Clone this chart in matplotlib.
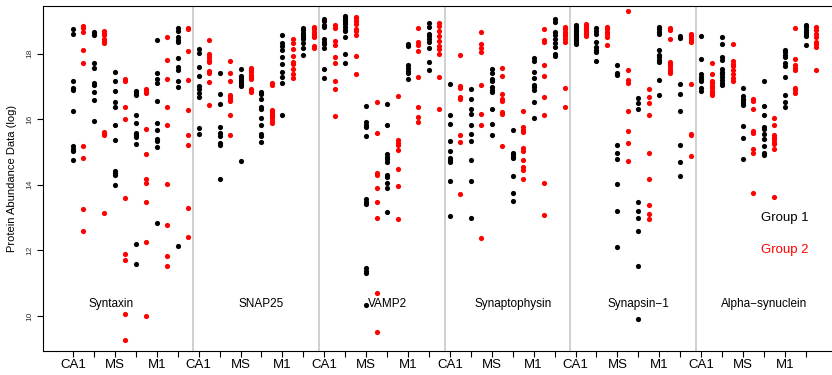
import matplotlib
matplotlib.use("Agg")
import matplotlib.pyplot as plt

plt.rcParams['font.family'] = ['Liberation Sans', 'DejaVu Sans']

proteins = ["Syntaxin", "SNAP25", "VAMP2", "Synaptophysin", "Synapsin\u22121", "Alpha\u2212synuclein"]
region_labels = ["CA1", "", "MS", "", "M1", ""]
label_x = [2.8, 10, 16, 22, 28, 34]

# each protein: 6 columns (CA1, CA1, MS, MS, M1, M1), group 1 (black) and group 2 (red)
syntaxin_g1 = [
    [18.74, 18.61, 17.17, 16.96, 16.90, 16.25, 15.18, 15.10, 15.04, 14.76],
    [18.66, 18.61, 18.56, 17.70, 17.55, 17.09, 17.03, 16.84, 16.59, 15.93],
    [17.44, 17.17, 16.85, 16.52, 16.38, 15.83, 15.37, 14.43, 14.36, 14.29, 14.0],
    [16.87, 16.80, 16.74, 16.13, 15.89, 15.58, 15.51, 15.45, 15.23, 12.19, 11.58],
    [18.41, 17.42, 17.23, 17.09, 16.55, 15.88, 15.66, 15.40, 15.34, 15.14, 12.84],
    [18.77, 18.69, 18.49, 18.42, 18.35, 17.85, 17.59, 17.50, 17.16, 16.98, 12.13],
]
syntaxin_g2 = [
    [18.85, 18.78, 18.65, 18.10, 17.71, 15.18, 14.81, 13.26, 12.59],
    [18.69, 18.63, 18.58, 18.45, 18.39, 18.32, 15.61, 15.56, 15.51, 13.14],
    [17.22, 17.16, 16.36, 16.0, 13.60, 11.90, 11.70, 10.07, 9.28],
    [16.91, 16.85, 16.79, 15.69, 14.95, 14.19, 14.06, 13.48, 12.25, 10.0],
    [18.50, 17.79, 17.22, 16.38, 15.81, 14.02, 12.77, 11.83, 11.53],
    [18.79, 18.75, 18.07, 17.20, 16.28, 15.51, 15.20, 13.29, 12.40],
]
snap25_g1 = [
    [18.15, 18.03, 17.59, 17.31, 17.0, 16.92, 16.80, 16.67, 15.72, 15.54],
    [17.41, 16.78, 16.45, 15.75, 15.57, 15.50, 15.28, 15.22, 14.19],
    [17.52, 17.32, 17.26, 17.19, 17.13, 17.06, 17.0, 14.73],
    [16.83, 16.76, 16.62, 16.36, 16.30, 16.04, 15.83, 15.56, 15.50, 15.31],
    [18.57, 18.33, 18.24, 18.10, 17.89, 17.68, 17.44, 17.29, 17.10, 16.12],
    [18.79, 18.71, 18.64, 18.58, 18.51, 18.45, 18.32, 18.18, 17.95],
]
snap25_g2 = [
    [18.42, 18.0, 17.88, 17.80, 17.73, 17.47, 17.41, 17.13, 16.43],
    [17.77, 17.40, 17.16, 16.74, 16.68, 16.61, 16.55, 16.13, 15.51],
    [17.57, 17.50, 17.43, 17.35, 17.29, 17.22, 16.92, 16.88, 16.82],
    [17.11, 17.04, 16.28, 16.22, 16.16, 16.09, 16.02, 15.95, 15.88],
    [18.45, 18.32, 18.13, 17.94, 17.75, 17.69, 17.52, 17.39, 17.24],
    [18.81, 18.74, 18.67, 18.61, 18.55, 18.49, 18.23, 18.18],
]
vamp2_g1 = [
    [19.06, 18.99, 18.88, 18.82, 18.45, 18.36, 18.28, 18.18, 17.54, 17.24],
    [19.14, 19.09, 19.02, 18.95, 18.89, 18.81, 18.73, 18.68, 18.51, 18.0, 17.70],
    [16.39, 15.90, 15.82, 15.75, 15.48, 13.55, 13.47, 13.40, 11.45, 11.38, 11.30, 10.34],
    [16.45, 15.83, 14.94, 14.85, 14.77, 14.69, 14.29, 14.23, 14.06, 13.89, 13.18],
    [18.30, 18.24, 17.64, 17.56, 17.48, 17.41, 17.23],
    [18.93, 18.80, 18.61, 18.54, 18.43, 18.34, 18.17, 17.73, 17.51],
]
vamp2_g2 = [
    [18.86, 18.78, 18.37, 18.26, 17.88, 17.70, 17.17, 16.93, 16.10],
    [19.12, 19.07, 19.0, 18.91, 18.75, 18.69, 18.58, 17.92, 17.37],
    [16.53, 15.58, 14.35, 14.31, 13.91, 13.46, 13.0, 10.69, 9.52],
    [16.71, 15.36, 15.28, 15.21, 15.07, 14.48, 13.96, 12.96],
    [18.77, 18.34, 18.26, 18.09, 17.27, 16.36, 16.07, 15.90],
    [18.93, 18.85, 18.68, 18.53, 18.39, 18.24, 18.13, 18.0, 17.29, 16.31],
]
synaptophysin_g1 = [
    [17.08, 16.14, 15.84, 15.34, 15.04, 14.82, 14.76, 14.68, 14.12, 13.06],
    [16.93, 16.60, 16.31, 16.16, 15.83, 15.56, 15.34, 14.75, 14.11, 12.98],
    [17.54, 17.42, 17.21, 17.15, 16.97, 16.90, 16.84, 16.30, 15.86, 15.52],
    [15.66, 14.98, 14.92, 14.86, 14.81, 14.26, 13.76, 13.49],
    [17.87, 17.77, 17.44, 17.25, 17.05, 16.97, 16.90, 16.53, 16.02],
    [19.06, 18.96, 18.65, 18.56, 18.44, 18.31, 18.21, 17.99, 17.93],
]
synaptophysin_g2 = [
    [17.96, 17.0, 16.94, 16.68, 16.62, 15.53, 15.30, 13.73],
    [18.65, 18.30, 18.18, 18.04, 17.03, 16.16, 15.81, 12.39],
    [17.55, 17.32, 16.78, 16.60, 16.54, 16.23, 16.17, 15.18],
    [16.26, 15.75, 15.66, 15.60, 15.13, 15.04, 14.76, 14.53, 14.46, 14.17],
    [18.74, 18.41, 18.35, 17.66, 17.33, 16.68, 16.13, 14.06, 13.07],
    [18.82, 18.74, 18.67, 18.60, 18.52, 18.43, 18.36, 16.95, 16.38],
]
synapsin_g1 = [
    [18.88, 18.82, 18.76, 18.70, 18.64, 18.58, 18.52, 18.46, 18.40, 18.34, 18.29],
    [18.79, 18.69, 18.59, 18.35, 18.20, 18.12, 18.06, 17.78],
    [17.64, 17.40, 17.34, 15.22, 14.98, 14.77, 14.01, 13.19, 12.11],
    [16.65, 16.50, 16.30, 13.47, 13.21, 12.98, 12.58, 11.51, 9.90],
    [18.81, 18.75, 18.67, 18.61, 18.10, 17.97, 17.88, 17.81, 17.74, 17.19, 16.73],
    [18.53, 18.47, 17.07, 16.78, 16.24, 15.21, 14.69, 14.27],
]
synapsin_g2 = [
    [18.91, 18.85, 18.79, 18.73, 18.67, 18.61, 18.55],
    [18.81, 18.74, 18.65, 18.59, 18.51, 18.26],
    [19.31, 17.49, 17.18, 17.09, 16.25, 15.63, 15.28, 14.71],
    [16.91, 16.68, 16.48, 16.12, 14.98, 14.19, 13.37, 13.10, 12.94],
    [18.77, 18.71, 18.45, 17.75, 17.68, 17.61, 17.54, 17.47, 17.41],
    [18.61, 18.53, 18.47, 18.40, 18.34, 17.06, 15.56, 15.51, 14.89],
]
asyn_g1 = [
    [18.53, 17.82, 17.37, 17.29, 17.22, 17.15, 16.95, 16.87],
    [18.51, 18.30, 17.88, 17.80, 17.52, 17.44, 17.37, 17.29, 17.19, 17.09, 17.03],
    [16.94, 16.70, 16.62, 16.54, 16.48, 16.42, 15.79, 15.41, 14.78],
    [17.17, 16.40, 16.14, 15.77, 15.69, 15.56, 15.38, 15.18, 14.97, 14.91],
    [18.12, 18.04, 17.97, 17.90, 17.72, 17.62, 17.28, 16.74, 16.51, 16.38],
    [18.87, 18.80, 18.73, 18.66, 18.60, 18.54, 18.25],
]
asyn_g2 = [
    [17.72, 17.39, 17.16, 17.09, 17.02, 16.95, 16.87, 16.81, 16.74],
    [18.29, 17.76, 17.68, 17.61, 17.49, 17.39, 17.24, 17.17],
    [16.61, 16.55, 16.30, 15.63, 15.58, 15.10, 14.97, 13.76],
    [16.02, 15.82, 15.52, 15.46, 15.38, 15.31, 15.23, 15.09, 13.64],
    [18.77, 17.82, 17.64, 17.56, 17.49, 16.96, 16.88, 16.81],
    [18.81, 18.71, 18.61, 18.49, 18.36, 18.28, 18.21, 17.49],
]

group1 = [syntaxin_g1, snap25_g1, vamp2_g1, synaptophysin_g1, synapsin_g1, asyn_g1]
group2 = [syntaxin_g2, snap25_g2, vamp2_g2, synaptophysin_g2, synapsin_g2, asyn_g2]

fig = plt.figure(figsize=(8.32, 3.75), dpi=100)
ax = fig.add_axes([0.0517, 0.064, 0.9483, 0.92])

for p in range(6):
    for c in range(6):
        k = p * 6 + c + 1
        y1 = group1[p][c]
        y2 = group2[p][c]
        ax.scatter([k] * len(y1), y1, s=14, color="black", linewidths=0, zorder=3)
        ax.scatter([k + 0.5] * len(y2), y2, s=14, color="red", linewidths=0, zorder=3)
    if p > 0:
        # separator between proteins
        ax.axvline(p * 6 + 0.75, color="#c8c8c8", lw=1.2, zorder=1)
    ax.text(label_x[p], 10.35, proteins[p], ha="center", va="center", fontsize=8.5)

ax.text(35, 13, "Group 1", color="black", ha="center", va="center", fontsize=9.5)
ax.text(35, 12, "Group 2", color="red", ha="center", va="center", fontsize=9.5)

xt = list(range(1, 37))
ax.set_xticks(xt)
ax.set_xticklabels(region_labels * 6, fontsize=9.5)
ax.set_yticks([10, 12, 14, 16, 18])
ax.set_yticklabels(["10", "12", "14", "16", "18"], rotation=90, va="center", fontsize=6, color="#333333")
ax.tick_params(axis="x", length=4, pad=1.5)
ax.tick_params(axis="y", length=4, pad=3)
ax.set_xlim(-0.433, 37.25)
ax.set_ylim(8.93, 19.45)
ax.spines["right"].set_visible(False)
ax.set_ylabel("Protein Abundance Data (log)", fontsize=8, labelpad=7)

plt.savefig("out.png", dpi=100)
plt.close()
